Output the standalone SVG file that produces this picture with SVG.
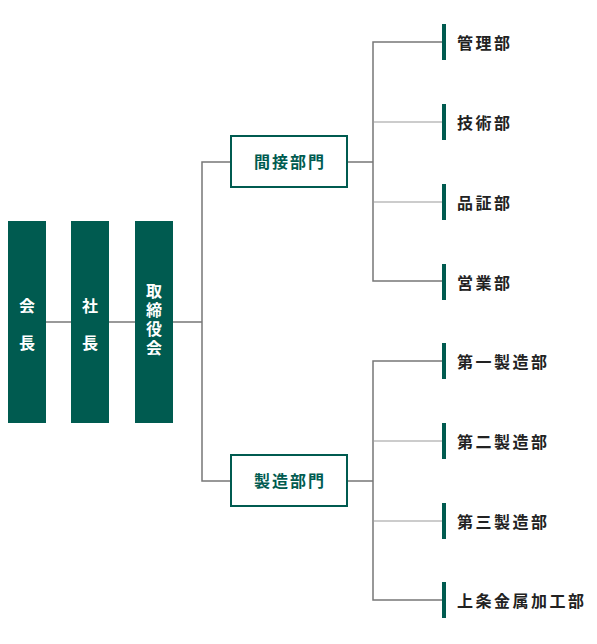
<svg xmlns="http://www.w3.org/2000/svg" width="597" height="644" viewBox="0 0 597 644">
<style>
.bar{fill:#005b50}
.bt{fill:#fff;font-family:"Noto Sans CJK JP","Noto Sans CJK SC",sans-serif;font-weight:bold;font-size:16px;text-anchor:middle;dominant-baseline:central}
.box{fill:#fff;stroke:#005b50;stroke-width:2}
.dt{fill:#005b50;font-family:"Noto Sans CJK JP","Noto Sans CJK SC",sans-serif;font-weight:bold;font-size:16px;letter-spacing:2px;text-anchor:middle;dominant-baseline:central}
.tick{fill:#005b50}
.lt{fill:#222;font-family:"Noto Sans CJK JP","Noto Sans CJK SC",sans-serif;font-weight:bold;font-size:16px;letter-spacing:2.5px;dominant-baseline:central}
.ln{fill:none;stroke:#777;stroke-width:1.5}
.ln2{fill:none;stroke:#999;stroke-width:1}
</style>
<g id="connectors">
<line class="ln" x1="46" y1="322" x2="71" y2="322"/>
<line class="ln" x1="109" y1="322" x2="135" y2="322"/>
<path class="ln" d="M173 322H202M231 162H202V481H231"/>
<path class="ln" d="M347 162H373M443 42H373V281H443"/>
<path class="ln2" d="M373 122H443M373 202H443"/>
<path class="ln" d="M347 481H373M443 361H373V600H443"/>
<path class="ln2" d="M373 441H443M373 521H443"/>
</g>
<g id="kaicho"><rect class="bar" x="8" y="221" width="38" height="202"/><text class="bt" x="27" y="305">会</text><text class="bt" x="27" y="342">長</text></g>
<g id="shacho"><rect class="bar" x="71" y="221" width="38" height="202"/><text class="bt" x="90" y="305">社</text><text class="bt" x="90" y="342">長</text></g>
<g id="torishimariyakukai"><rect class="bar" x="135" y="221" width="38" height="202"/><text fill="#fff" font-family="Noto Sans CJK JP, Noto Sans CJK SC, sans-serif" font-weight="bold" font-size="16" writing-mode="vertical-rl" letter-spacing="3" x="154" y="283">取締役会</text></g>
<g id="kansetsu"><rect class="box" x="231" y="136" width="116" height="51"/><text class="dt" x="290" y="161">間接部門</text></g>
<g id="seizo"><rect class="box" x="231" y="455" width="116" height="51"/><text class="dt" x="290" y="480">製造部門</text></g>
<g id="kanri"><rect class="tick" x="442" y="24" width="4" height="36"/><text class="lt" x="457" y="42">管理部</text></g>
<g id="gijutsu"><rect class="tick" x="442" y="104" width="4" height="36"/><text class="lt" x="457" y="122">技術部</text></g>
<g id="hinsho"><rect class="tick" x="442" y="184" width="4" height="36"/><text class="lt" x="457" y="202">品証部</text></g>
<g id="eigyo"><rect class="tick" x="442" y="264" width="4" height="36"/><text class="lt" x="457" y="282">営業部</text></g>
<g id="seizo1"><rect class="tick" x="442" y="343" width="4" height="36"/><text class="lt" x="457" y="361">第一製造部</text></g>
<g id="seizo2"><rect class="tick" x="442" y="423" width="4" height="36"/><text class="lt" x="457" y="441">第二製造部</text></g>
<g id="seizo3"><rect class="tick" x="442" y="503" width="4" height="36"/><text class="lt" x="457" y="521">第三製造部</text></g>
<g id="kamijo"><rect class="tick" x="442" y="582" width="4" height="36"/><text class="lt" x="457" y="600">上条金属加工部</text></g>
</svg>
